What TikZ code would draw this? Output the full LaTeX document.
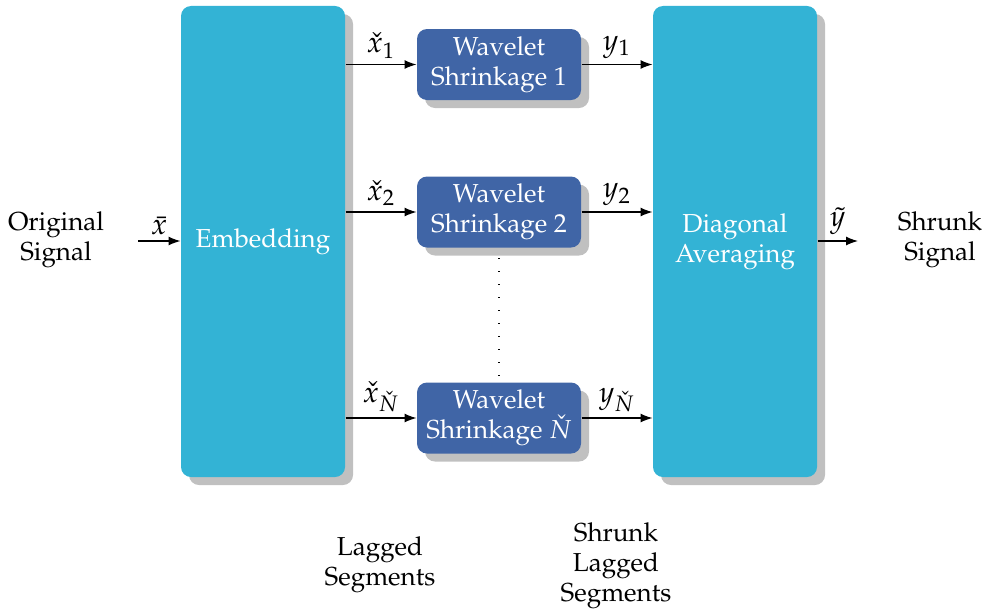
\documentclass[tikz,border=0pt]{standalone}
\usepackage[T1]{fontenc}
\usepackage{mathpazo}
\usetikzlibrary{shadows,arrows.meta}
\definecolor{blockcyan}{RGB}{51,179,213}
\definecolor{blockblue}{RGB}{64,101,166}
\definecolor{shadowgray}{RGB}{192,192,192}
\tikzset{
  every node/.style={font=\fontsize{10.4}{12}\selectfont},
  boxshadow/.style={drop shadow={shadow xshift=3.2pt,shadow yshift=-3.2pt,fill=shadowgray,opacity=1}},
  bigblock/.style={rounded corners=4pt,fill=blockcyan,text=white,boxshadow,
    minimum width=65.6pt,minimum height=188.4pt,align=center,inner sep=0pt},
  wavebox/.style={rounded corners=4pt,fill=blockblue,text=white,boxshadow,
    minimum width=65.6pt,minimum height=28.4pt,align=center,inner sep=0pt},
  sigarrow/.style={-{Latex[length=4.8pt,width=3.6pt]},line width=0.5pt},
  siglabel/.style={above=0.6pt,inner sep=1.5pt,font=\fontsize{11.8}{13}\selectfont},
  caption/.style={align=center,text=black}
}
\begin{document}
\begin{tikzpicture}[x=0.4pt,y=-0.4pt]
\useasboundingbox (0,0) rectangle (985,614);

% main processing blocks
\node[bigblock] (emb) at (263,241.5) {Embedding};
\node[bigblock] (avg) at (735,241.5) {Diagonal\\Averaging};

% wavelet shrinkage branches
\node[wavebox] (w1) at (499,64.5) {Wavelet\\Shrinkage 1};
\node[wavebox] (w2) at (499,212) {Wavelet\\Shrinkage 2};
\node[wavebox] (w3) at (499,418) {Wavelet\\Shrinkage $\check{N}$};

% input and output signals
\coordinate (in) at (138,241);
\coordinate (out) at (858,241);
\node[caption] (orig) at (56,240) {Original\\Signal};
\node[caption] (shrunk) at (940,240) {Shrunk\\Signal};
\draw[sigarrow] (in) -- node[siglabel] {$\bar{x}$} (in -| emb.west);
\draw[sigarrow] (out -| avg.east) -- node[siglabel] {$\tilde{y}$} (out);

% branch connections
\draw[sigarrow] (w1.west -| emb.east) -- node[siglabel] {$\check{x}_1$} (w1.west);
\draw[sigarrow] (w2.west -| emb.east) -- node[siglabel] {$\check{x}_2$} (w2.west);
\draw[sigarrow] (w3.west -| emb.east) -- node[siglabel] {$\check{x}_{\check{N}}$} (w3.west);
\draw[sigarrow] (w1.east) -- node[siglabel] {$y_1$} (w1.east -| avg.west);
\draw[sigarrow] (w2.east) -- node[siglabel] {$y_2$} (w2.east -| avg.west);
\draw[sigarrow] (w3.east) -- node[siglabel] {$y_{\check{N}}$} (w3.east -| avg.west);

% omitted branches
\draw[line width=0.5pt,dash pattern=on 0.5pt off 4.7pt] ([yshift=-4pt]w2.south) -- (w3.north);

% segment captions
\node[caption] (lag) at (380,565) {Lagged\\Segments};
\node[caption] (slag) at (616,566) {Shrunk\\Lagged\\Segments};
\end{tikzpicture}
\end{document}
